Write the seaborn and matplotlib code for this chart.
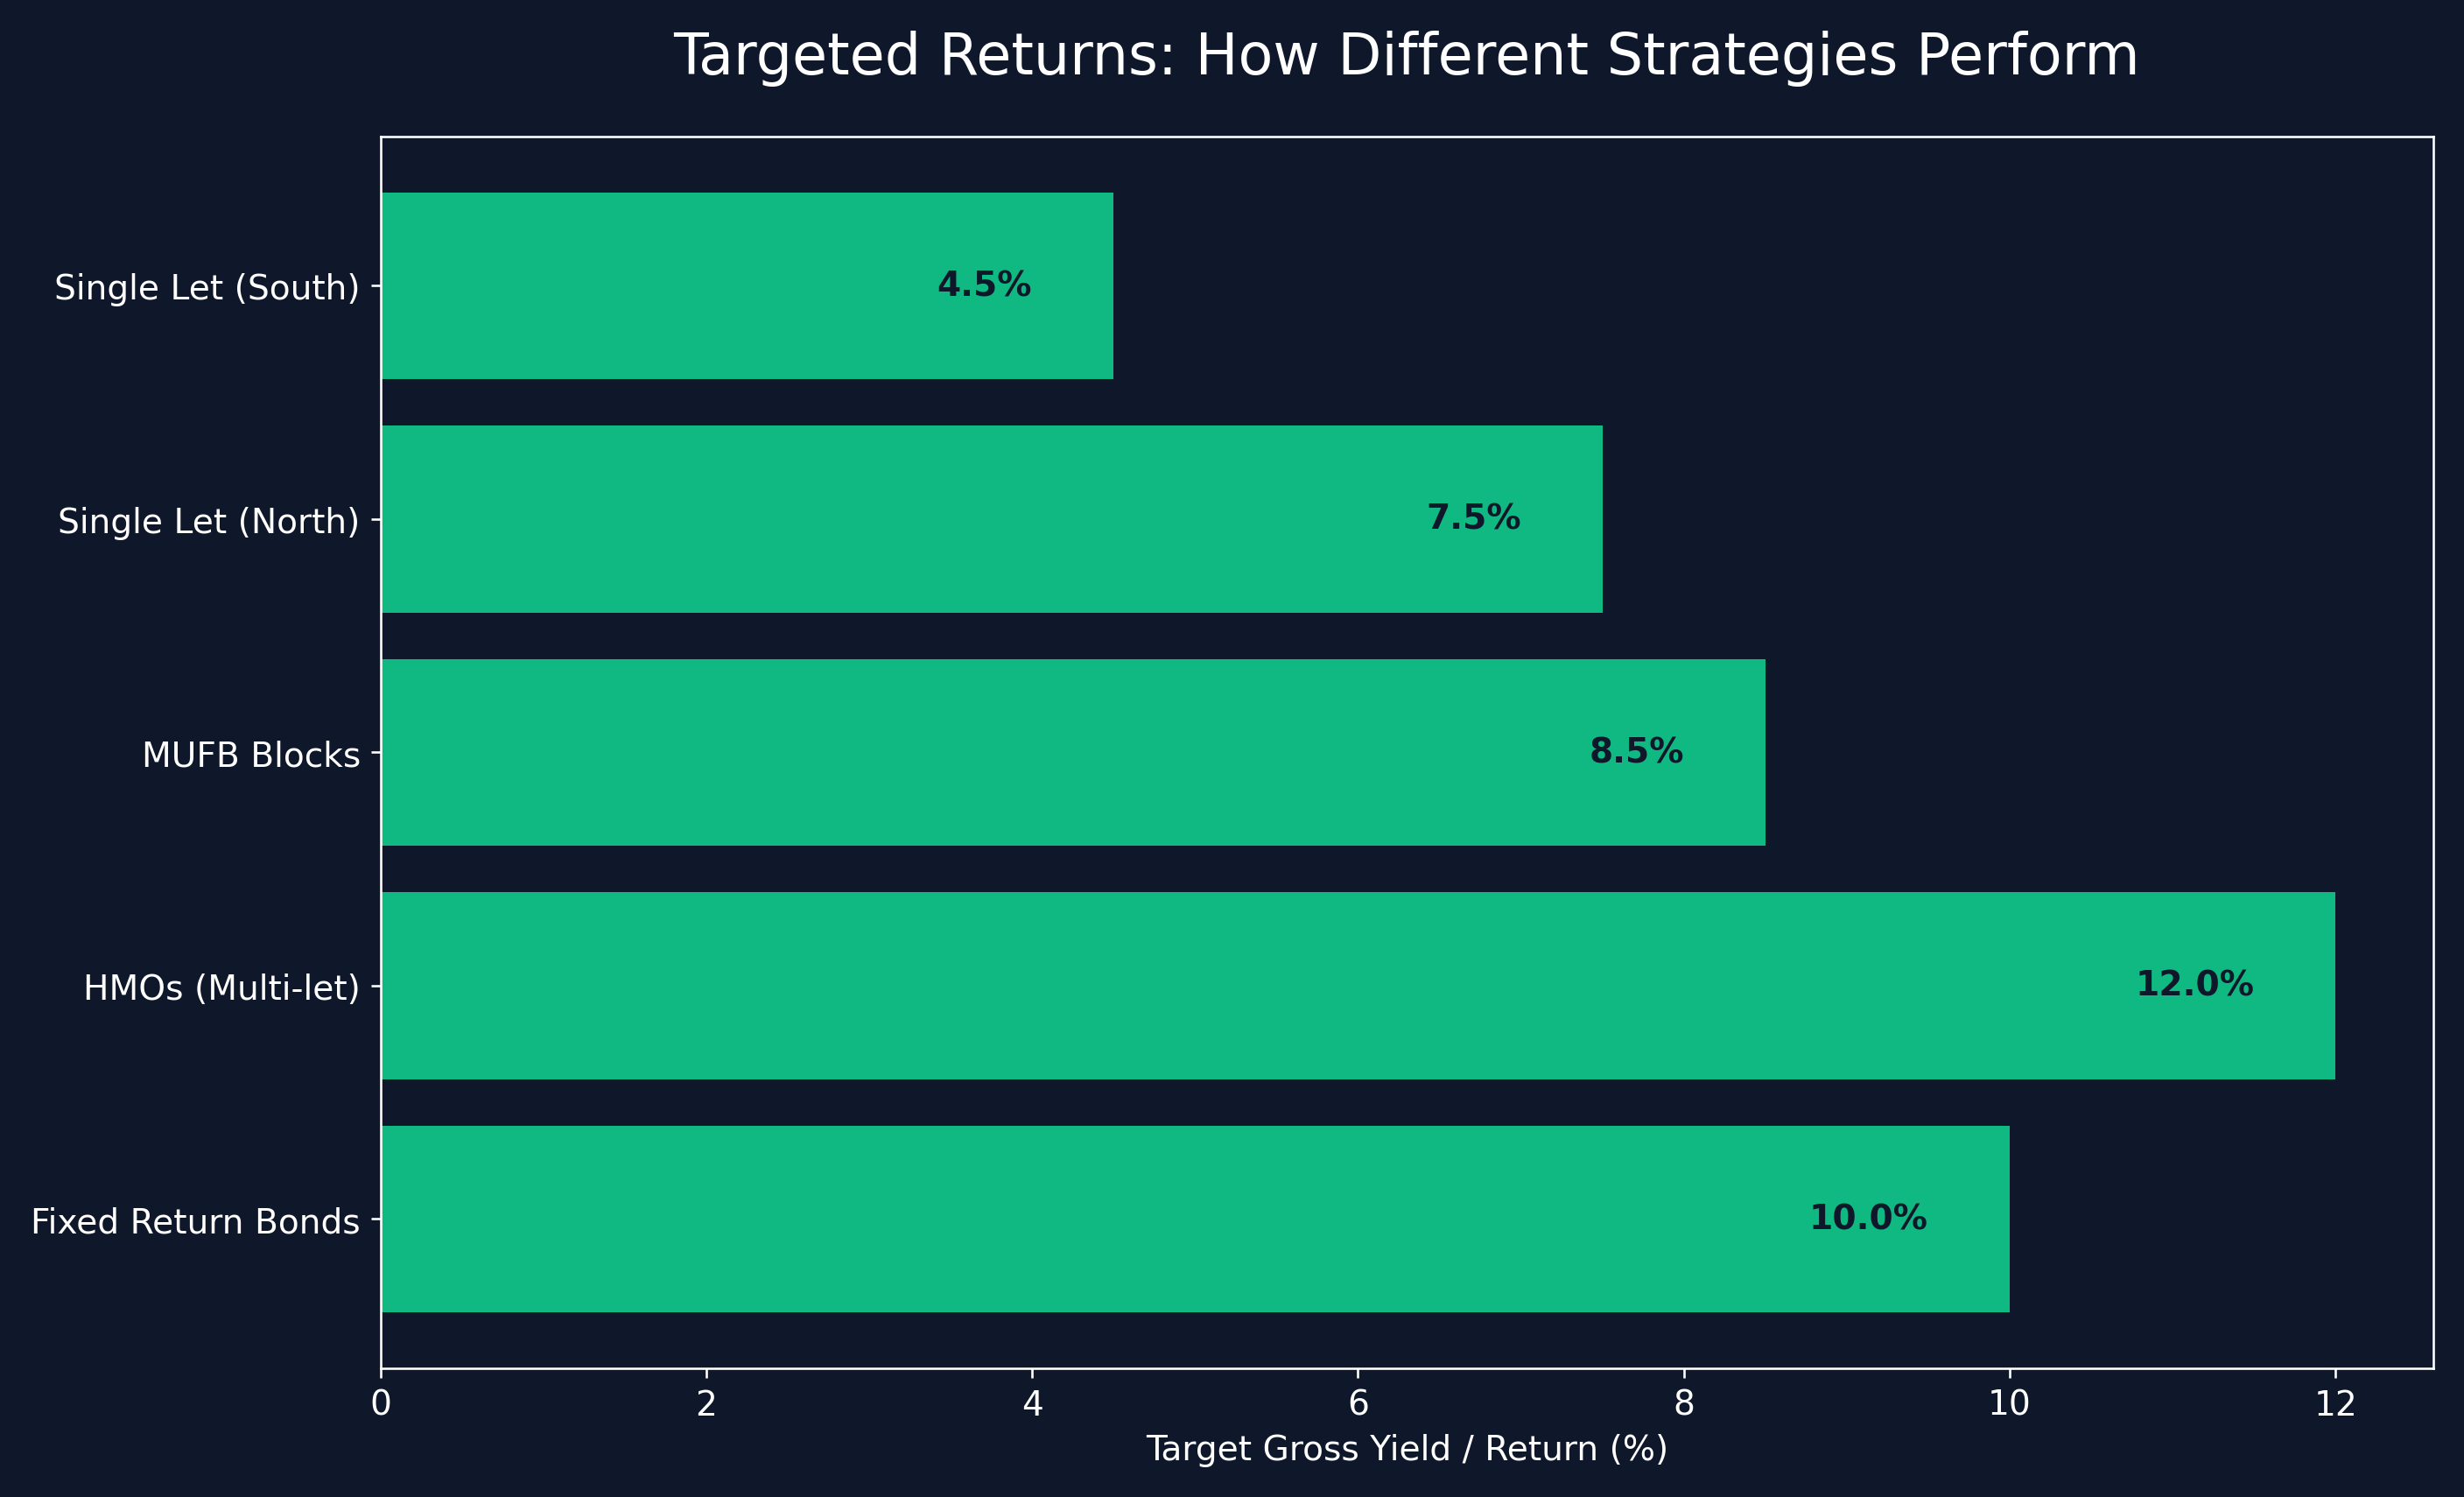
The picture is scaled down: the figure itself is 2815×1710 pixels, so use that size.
import matplotlib
matplotlib.use("Agg")
import matplotlib.pyplot as plt
import pandas as pd
import seaborn as sns

strategies = ["Fixed Return Bonds", "HMOs (Multi-let)", "MUFB Blocks",
              "Single Let (North)", "Single Let (South)"]
returns = [10.0, 12.0, 8.5, 7.5, 4.5]

bg = "#0f172a"
green = "#10b981"

# seaborn draws the first category at the top, so reverse for matching order
df = pd.DataFrame({"strategy": strategies[::-1], "ret": returns[::-1]})

fig, ax = plt.subplots(figsize=(12, 7.293), dpi=234.6)
fig.patch.set_facecolor(bg)
ax.set_facecolor(bg)

sns.barplot(data=df, x="ret", y="strategy", orient="h", color=green,
            saturation=1, width=0.8, ax=ax)

for i, v in enumerate(df["ret"]):
    ax.text(v - 0.5, i, f"{v:.1f}%", ha="right", va="center",
            fontsize=12, fontweight="bold", color=bg)

ax.set_ylim(len(df) - 1 + 0.64, -0.64)
ax.set_title("Targeted Returns: How Different Strategies Perform",
             fontsize=20, color="white", pad=22)
ax.set_xlabel("Target Gross Yield / Return (%)", fontsize=12, color="white")
ax.set_ylabel("")
ax.tick_params(colors="white", labelsize=12)
for s in ax.spines.values():
    s.set_color("white")

plt.tight_layout()
plt.savefig("out.png", facecolor=bg)
